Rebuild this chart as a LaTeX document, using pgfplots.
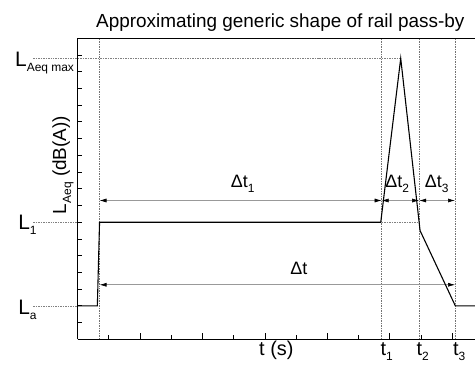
\documentclass[border=0pt]{standalone}
\usepackage{fontspec}
\setmainfont{Liberation Sans}
\usepackage{pgfplots}
\pgfplotsset{compat=1.18}
\usetikzlibrary{arrows.meta}
\newcommand{\sub}[1]{\raisebox{-5bp}{\fontsize{12}{12}\selectfont #1}}
\begin{document}
\begin{tikzpicture}
\begin{axis}[
  scale only axis, width=397.3bp, height=301bp,
  xmin=0, xmax=12.73, ymin=0, ymax=18,
  axis x line=bottom, axis y line=left,
  axis line style={-, line width=1.1pt},
  tick align=inside,
  xtick={2,4,...,12}, minor xtick={1,3,...,11},
  ytick=\empty,
  extra y ticks={1,...,17},
  extra y tick labels={},
  extra y tick style={major tick length=4.5bp, tick align=inside},
  xticklabels={}, yticklabels={},
  major tick length=6.5bp, minor tick length=4.3bp,
  every tick/.style={black, line width=0.9pt},
  clip=false,
]
% frame top
\draw[line width=1.1pt] (rel axis cs:0,1) -- (rel axis cs:1,1);
% reference lines
\addplot[gray, line width=0.5pt, dash pattern=on 1.5pt off 1pt] coordinates {(-1.43,16.8) (10.35,16.8)};
\addplot[gray, line width=0.5pt, dash pattern=on 1.5pt off 1pt] coordinates {(-1.43,7) (0,7)};
\addplot[gray, line width=0.5pt, dash pattern=on 1.5pt off 1pt] coordinates {(-1.43,2) (0,2)};
\addplot[gray, line width=0.5pt, dash pattern=on 1.5pt off 1pt] coordinates {(9.74,7) (10.94,7)};
\addplot[gray!90!black, line width=0.5pt, dash pattern=on 1.5pt off 1pt] coordinates {(0.7,0) (0.7,18)};
\addplot[gray!90!black, line width=0.5pt, dash pattern=on 1.5pt off 1pt] coordinates {(9.74,0) (9.74,18)};
\addplot[gray!90!black, line width=0.5pt, dash pattern=on 1.5pt off 1pt] coordinates {(10.94,0) (10.94,18)};
\addplot[gray!90!black, line width=0.5pt, dash pattern=on 1.5pt off 1pt] coordinates {(12.09,0) (12.09,18)};
% arrows
\addplot[gray!80, line width=0.6pt, {Latex[length=7bp,width=4bp,black]}-{Latex[length=7bp,width=4bp,black]}] coordinates {(0.7,8.3) (9.74,8.3)};
\addplot[gray!80, line width=0.6pt, {Latex[length=7bp,width=4bp,black]}-{Latex[length=7bp,width=4bp,black]}] coordinates {(9.74,8.3) (10.94,8.3)};
\addplot[gray!80, line width=0.6pt, {Latex[length=7bp,width=4bp,black]}-{Latex[length=7bp,width=4bp,black]}] coordinates {(10.94,8.3) (12.09,8.3)};
\addplot[gray!80, line width=0.6pt, {Latex[length=7bp,width=4bp,black]}-{Latex[length=7bp,width=4bp,black]}] coordinates {(0.7,3.26) (12.09,3.26)};
% curve
\addplot[black, line width=1.1pt] coordinates {(0,2) (0.63,2) (0.7,7) (9.71,7) (10.35,16.8) (10.97,6.5) (12.1,2) (12.73,2)};
% labels
\node[anchor=base, font=\fontsize{18}{18}\selectfont] at (axis cs:5.29,9.08) {Δt\sub{1}};
\node[anchor=base, font=\fontsize{18}{18}\selectfont] at (axis cs:10.24,9.08) {Δt\sub{2}};
\node[anchor=base, font=\fontsize{18}{18}\selectfont] at (axis cs:11.5,9.08) {Δt\sub{3}};
\node[anchor=base, font=\fontsize{18}{18}\selectfont] at (axis cs:7.09,3.86) {Δt};
\node[anchor=base west, inner sep=0pt, font=\fontsize{20}{20}\selectfont] at (axis cs:9.70,-0.95) {t\sub{1}};
\node[anchor=base west, inner sep=0pt, font=\fontsize{20}{20}\selectfont] at (axis cs:10.85,-0.95) {t\sub{2}};
\node[anchor=base west, inner sep=0pt, font=\fontsize{20}{20}\selectfont] at (axis cs:12.02,-0.95) {t\sub{3}};
\node[anchor=base, inner sep=0pt, font=\fontsize{20}{20}\selectfont] at (rel axis cs:0.5,0) [yshift=-16bp] {t (s)};
\node[anchor=base west, inner sep=0pt, font=\fontsize{21}{21}\selectfont] at (axis cs:-2.01,16.33) {L\sub{Aeq max}};
\node[anchor=base west, inner sep=0pt, font=\fontsize{21}{21}\selectfont] at (axis cs:-1.91,6.56) {L\sub{1}};
\node[anchor=base west, inner sep=0pt, font=\fontsize{21}{21}\selectfont] at (axis cs:-1.91,1.46) {L\sub{a}};
\node[anchor=base, rotate=90, inner sep=0pt, font=\fontsize{19}{19}\selectfont] at (rel axis cs:-0.0294,0.579) {L\sub{Aeq} (dB(A))};
\node[anchor=base, inner sep=0pt, font=\fontsize{19}{19}\selectfont] at (rel axis cs:0.51,1) [yshift=11bp] {Approximating generic shape of rail pass-by};
\end{axis}
\pgfresetboundingbox
\path[use as bounding box] ([xshift=-77.7bp,yshift=-29.7bp]current axis.south west) rectangle ([yshift=38.3bp]current axis.north east);
\end{tikzpicture}
\end{document}
